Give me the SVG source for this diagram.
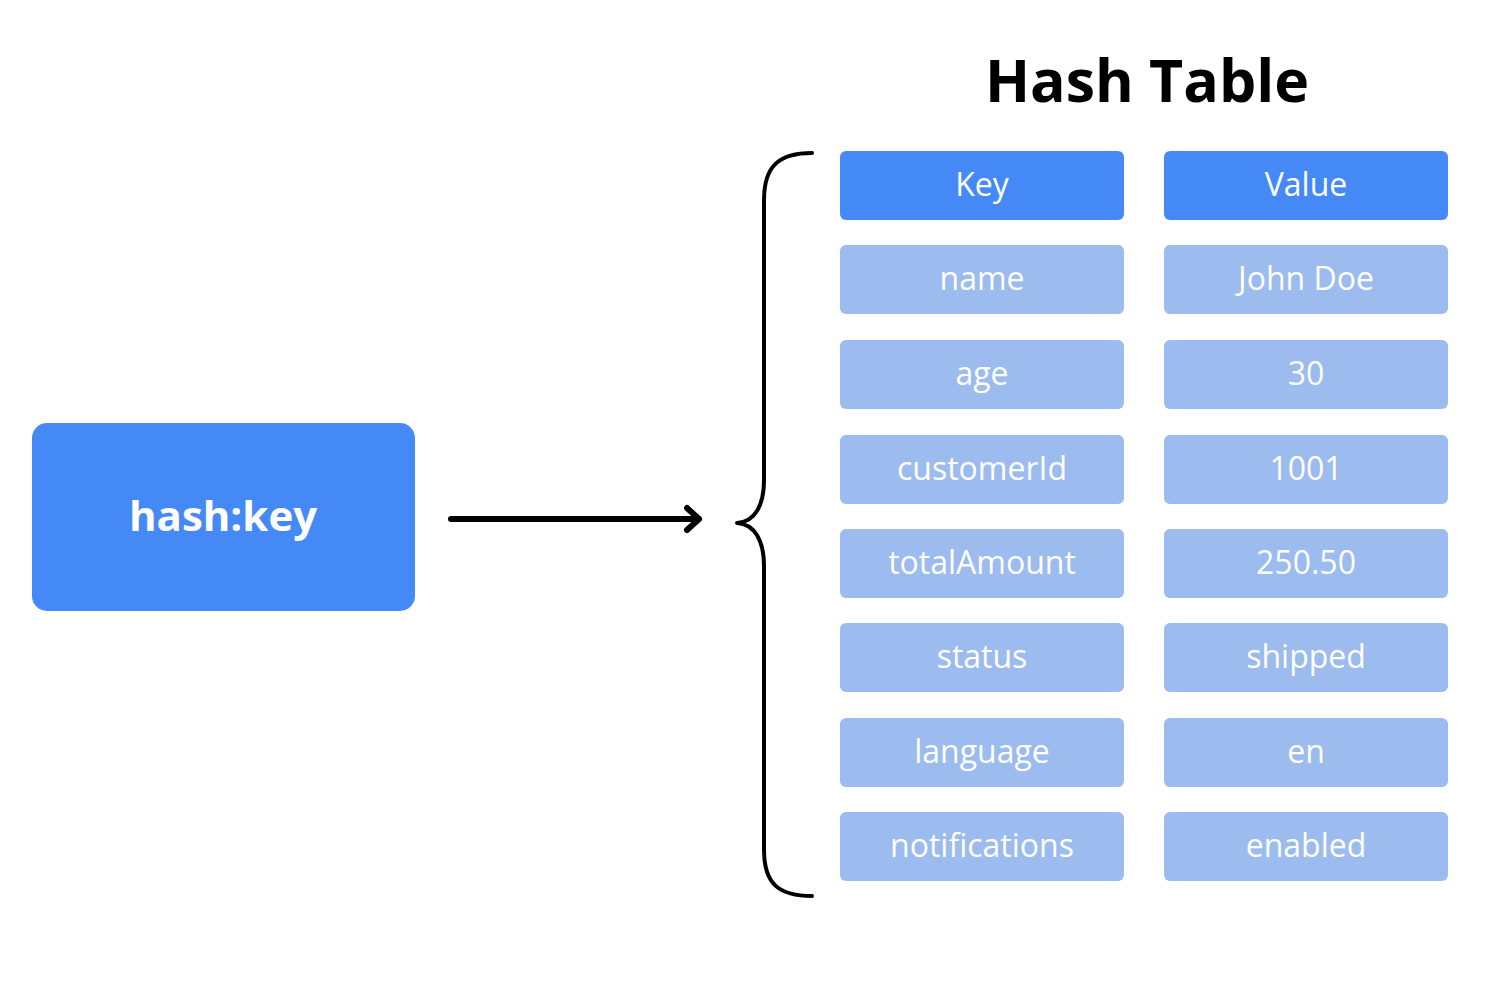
<svg xmlns="http://www.w3.org/2000/svg" width="1500" height="1000" viewBox="0 0 1500 1000">
<style>
.hdr{fill:#4589F7}
.cell{fill:#9CBBEE}
.t{font-family:"Open Sans","Noto Sans",sans-serif;font-size:32px;fill:#fff;text-anchor:middle;dominant-baseline:central}
.title{font-family:"Open Sans","Noto Sans",sans-serif;font-size:59px;font-weight:700;fill:#000;text-anchor:middle}
.big{font-family:"Open Sans","Noto Sans",sans-serif;font-size:42px;font-weight:700;fill:#fff;text-anchor:middle;dominant-baseline:central}
.ln{fill:none;stroke:#000;stroke-linecap:round;stroke-linejoin:round}
</style>
<rect width="1500" height="1000" fill="#fff"/>
<text class="title" x="1147" y="102">Hash Table</text>
<g id="hashkey"><rect x="32" y="423" width="383" height="188" rx="15" class="hdr"/><text class="big" x="223" y="514">hash:key</text></g>
<g id="connectors">
<path class="ln" stroke-width="6" d="M451 519 H699 M687 508 L699 519 L687 530"/>
<path class="ln" stroke-width="4" d="M812 153 C780 153 764 165 764 200 V480 C764 505 755 522 737 523 C755 524 764 541 764 566 V850 C764 885 780 896 812 896"/>
</g>
<g id="key-header"><rect x="840" y="151" width="284" height="69" rx="6" class="hdr"/><text class="t" x="982" y="183">Key</text></g>
<g id="value-header"><rect x="1164" y="151" width="284" height="69" rx="6" class="hdr"/><text class="t" x="1306" y="183">Value</text></g>
<g id="k1"><rect x="840" y="245" width="284" height="69" rx="6" class="cell"/><text class="t" x="982" y="277">name</text></g>
<g id="v1"><rect x="1164" y="245" width="284" height="69" rx="6" class="cell"/><text class="t" x="1306" y="277">John Doe</text></g>
<g id="k2"><rect x="840" y="340" width="284" height="69" rx="6" class="cell"/><text class="t" x="982" y="372">age</text></g>
<g id="v2"><rect x="1164" y="340" width="284" height="69" rx="6" class="cell"/><text class="t" x="1306" y="372">30</text></g>
<g id="k3"><rect x="840" y="435" width="284" height="69" rx="6" class="cell"/><text class="t" x="982" y="467">customerId</text></g>
<g id="v3"><rect x="1164" y="435" width="284" height="69" rx="6" class="cell"/><text class="t" x="1306" y="467">1001</text></g>
<g id="k4"><rect x="840" y="529" width="284" height="69" rx="6" class="cell"/><text class="t" x="982" y="561">totalAmount</text></g>
<g id="v4"><rect x="1164" y="529" width="284" height="69" rx="6" class="cell"/><text class="t" x="1306" y="561">250.50</text></g>
<g id="k5"><rect x="840" y="623" width="284" height="69" rx="6" class="cell"/><text class="t" x="982" y="655">status</text></g>
<g id="v5"><rect x="1164" y="623" width="284" height="69" rx="6" class="cell"/><text class="t" x="1306" y="655">shipped</text></g>
<g id="k6"><rect x="840" y="718" width="284" height="69" rx="6" class="cell"/><text class="t" x="982" y="750">language</text></g>
<g id="v6"><rect x="1164" y="718" width="284" height="69" rx="6" class="cell"/><text class="t" x="1306" y="750">en</text></g>
<g id="k7"><rect x="840" y="812" width="284" height="69" rx="6" class="cell"/><text class="t" x="982" y="844">notifications</text></g>
<g id="v7"><rect x="1164" y="812" width="284" height="69" rx="6" class="cell"/><text class="t" x="1306" y="844">enabled</text></g>
</svg>
